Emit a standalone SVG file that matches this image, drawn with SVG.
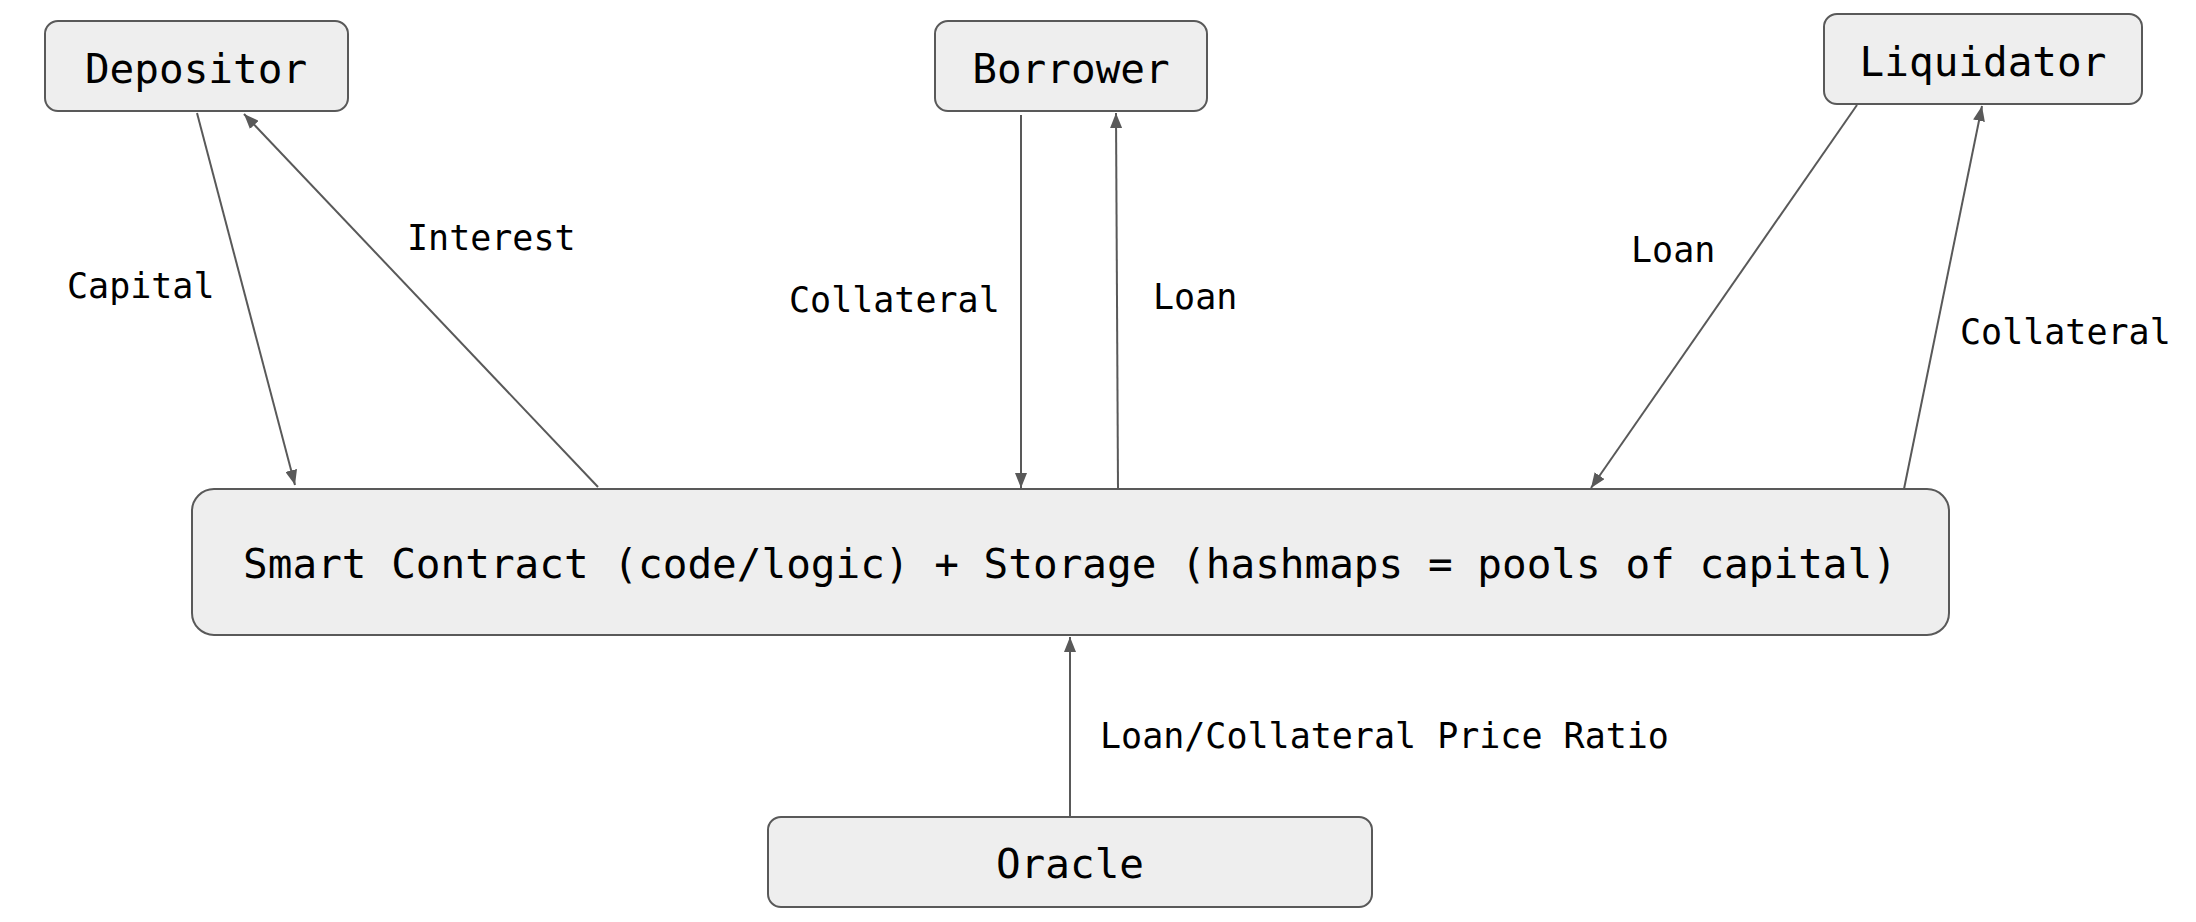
<svg xmlns="http://www.w3.org/2000/svg" width="2196" height="922" viewBox="0 0 2196 922">
<style>
.box{fill:#eeeeee;stroke:#595959;stroke-width:2}
.nt{font-family:"DejaVu Sans Mono","Liberation Mono",monospace;font-size:41px;fill:#000;text-anchor:middle}
.lt{font-family:"DejaVu Sans Mono","Liberation Mono",monospace;font-size:35px;fill:#000}
.ln{stroke:#595959;stroke-width:2;fill:none;marker-end:url(#ah)}
</style>
<defs>
<marker id="ah" markerUnits="userSpaceOnUse" markerWidth="16" markerHeight="12" refX="15" refY="6" orient="auto">
<path d="M0,0 L15,6 L0,12 Z" fill="#595959"/>
</marker>
</defs>
<rect width="2196" height="922" fill="#ffffff"/>
<g id="depositor"><rect class="box" x="45" y="21" width="303" height="90" rx="13"/><text class="nt" x="196" y="83">Depositor</text></g>
<g id="borrower"><rect class="box" x="935" y="21" width="272" height="90" rx="13"/><text class="nt" x="1071" y="83">Borrower</text></g>
<g id="liquidator"><rect class="box" x="1824" y="14" width="318" height="90" rx="13"/><text class="nt" x="1983" y="76">Liquidator</text></g>
<g id="contract"><rect class="box" x="192" y="489" width="1757" height="146" rx="22"/><text class="nt" x="1070" y="578">Smart Contract (code/logic) + Storage (hashmaps = pools of capital)</text></g>
<g id="oracle"><rect class="box" x="768" y="817" width="604" height="90" rx="13"/><text class="nt" x="1070" y="878">Oracle</text></g>
<g id="connectors">
<line class="ln" x1="197" y1="113" x2="295" y2="485"/>
<line class="ln" x1="598" y1="487" x2="244" y2="114"/>
<line class="ln" x1="1021" y1="115" x2="1021" y2="488"/>
<line class="ln" x1="1118" y1="489" x2="1116" y2="113"/>
<line class="ln" x1="1857" y1="105" x2="1591" y2="488"/>
<line class="ln" x1="1904" y1="489" x2="1982" y2="106"/>
<line class="ln" x1="1070" y1="817" x2="1070" y2="637"/>
<text class="lt" x="67" y="298">Capital</text>
<text class="lt" x="407" y="250">Interest</text>
<text class="lt" x="789" y="312">Collateral</text>
<text class="lt" x="1153" y="309">Loan</text>
<text class="lt" x="1631" y="262">Loan</text>
<text class="lt" x="1960" y="344">Collateral</text>
<text class="lt" x="1100" y="748">Loan/Collateral Price Ratio</text>
</g>
</svg>
